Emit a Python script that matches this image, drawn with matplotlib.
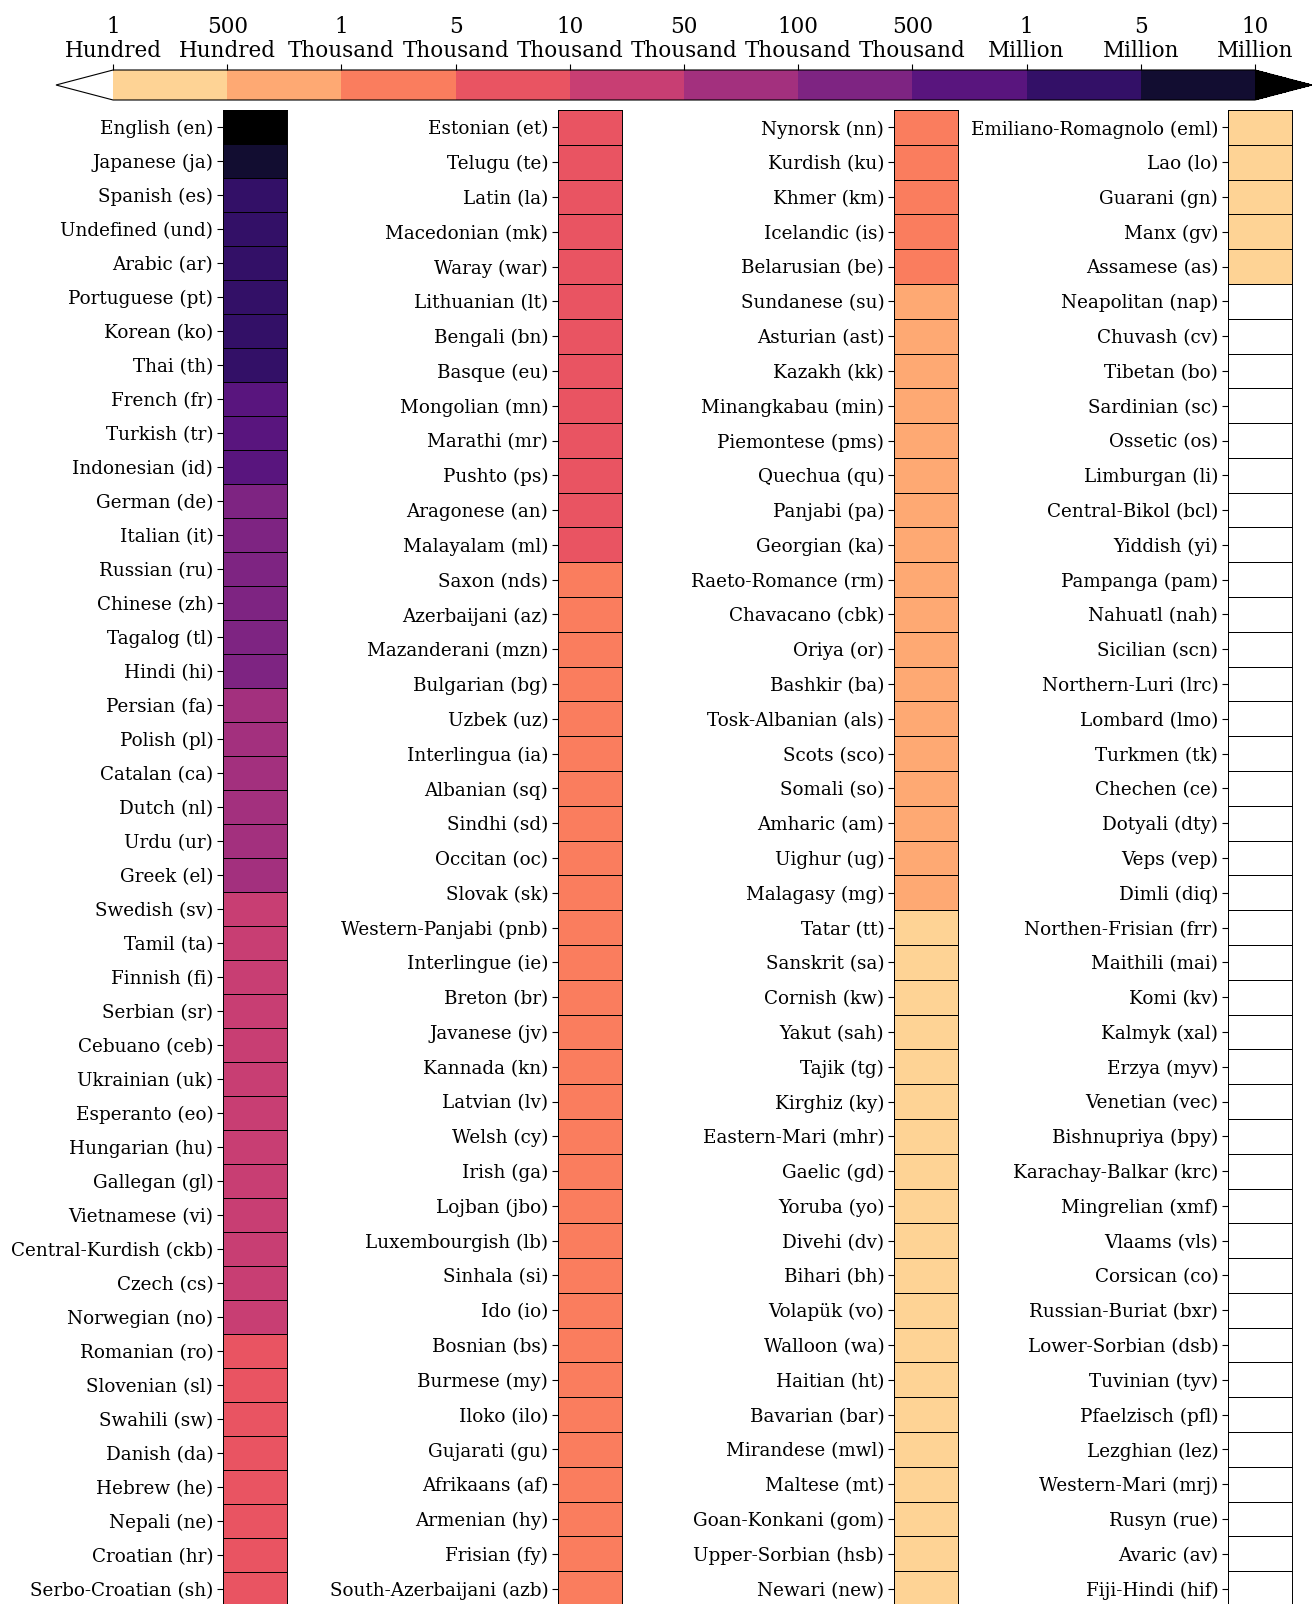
import numpy as np
import matplotlib
matplotlib.use("Agg")
import matplotlib.pyplot as plt
from matplotlib.colors import ListedColormap, BoundaryNorm

# ---------------- data ----------------
bounds = [100, 500, 1_000, 5_000, 10_000, 50_000, 100_000, 500_000,
          1_000_000, 5_000_000, 10_000_000]
bound_labels = ["1\nHundred", "500\nHundred", "1\nThousand", "5\nThousand",
                "10\nThousand", "50\nThousand", "100\nThousand", "500\nThousand",
                "1\nMillion", "5\nMillion", "10\nMillion"]

col1_names = ["English", "Japanese", "Spanish", "Undefined", "Arabic", "Portuguese",
              "Korean", "Thai", "French", "Turkish", "Indonesian", "German", "Italian",
              "Russian", "Chinese", "Tagalog", "Hindi", "Persian", "Polish", "Catalan",
              "Dutch", "Urdu", "Greek", "Swedish", "Tamil", "Finnish", "Serbian",
              "Cebuano", "Ukrainian", "Esperanto", "Hungarian", "Gallegan", "Vietnamese",
              "Central-Kurdish", "Czech", "Norwegian", "Romanian", "Slovenian", "Swahili",
              "Danish", "Hebrew", "Nepali", "Croatian", "Serbo-Croatian"]
col1_codes = ["en", "ja", "es", "und", "ar", "pt", "ko", "th", "fr", "tr", "id", "de",
              "it", "ru", "zh", "tl", "hi", "fa", "pl", "ca", "nl", "ur", "el", "sv",
              "ta", "fi", "sr", "ceb", "uk", "eo", "hu", "gl", "vi", "ckb", "cs", "no",
              "ro", "sl", "sw", "da", "he", "ne", "hr", "sh"]
col1_values = [12_500_000, 6_200_000, 4_300_000, 3_600_000, 3_100_000, 2_600_000,
               1_900_000, 1_300_000, 880_000, 720_000, 610_000, 430_000, 360_000,
               310_000, 260_000, 210_000, 150_000, 96_000, 88_000, 79_000, 70_000,
               63_000, 56_000, 46_000, 41_000, 37_000, 33_000, 30_000, 27_000, 24_000,
               21_000, 19_000, 17_000, 15_000, 13_000, 11_000, 9_600, 9_100, 8_600,
               8_100, 7_700, 7_300, 6_900, 6_500]

col2_names = ["Estonian", "Telugu", "Latin", "Macedonian", "Waray", "Lithuanian",
              "Bengali", "Basque", "Mongolian", "Marathi", "Pushto", "Aragonese",
              "Malayalam", "Saxon", "Azerbaijani", "Mazanderani", "Bulgarian", "Uzbek",
              "Interlingua", "Albanian", "Sindhi", "Occitan", "Slovak", "Western-Panjabi",
              "Interlingue", "Breton", "Javanese", "Kannada", "Latvian", "Welsh", "Irish",
              "Lojban", "Luxembourgish", "Sinhala", "Ido", "Bosnian", "Burmese", "Iloko",
              "Gujarati", "Afrikaans", "Armenian", "Frisian", "South-Azerbaijani"]
col2_codes = ["et", "te", "la", "mk", "war", "lt", "bn", "eu", "mn", "mr", "ps", "an",
              "ml", "nds", "az", "mzn", "bg", "uz", "ia", "sq", "sd", "oc", "sk", "pnb",
              "ie", "br", "jv", "kn", "lv", "cy", "ga", "jbo", "lb", "si", "io", "bs",
              "my", "ilo", "gu", "af", "hy", "fy", "azb"]
col2_values = [6_300, 6_100, 5_950, 5_800, 5_650, 5_500, 5_400, 5_300, 5_250, 5_200,
               5_150, 5_100, 5_050, 4_900, 4_700, 4_500, 4_300, 4_100, 3_900, 3_700,
               3_500, 3_350, 3_200, 3_050, 2_900, 2_750, 2_600, 2_500, 2_400, 2_300,
               2_200, 2_100, 2_000, 1_900, 1_800, 1_700, 1_620, 1_540, 1_460, 1_380,
               1_300, 1_250, 1_200]

col3_names = ["Nynorsk", "Kurdish", "Khmer", "Icelandic", "Belarusian", "Sundanese",
              "Asturian", "Kazakh", "Minangkabau", "Piemontese", "Quechua", "Panjabi",
              "Georgian", "Raeto-Romance", "Chavacano", "Oriya", "Bashkir",
              "Tosk-Albanian", "Scots", "Somali", "Amharic", "Uighur", "Malagasy",
              "Tatar", "Sanskrit", "Cornish", "Yakut", "Tajik", "Kirghiz", "Eastern-Mari",
              "Gaelic", "Yoruba", "Divehi", "Bihari", "Volapük", "Walloon", "Haitian",
              "Bavarian", "Mirandese", "Maltese", "Goan-Konkani", "Upper-Sorbian", "Newari"]
col3_codes = ["nn", "ku", "km", "is", "be", "su", "ast", "kk", "min", "pms", "qu", "pa",
              "ka", "rm", "cbk", "or", "ba", "als", "sco", "so", "am", "ug", "mg", "tt",
              "sa", "kw", "sah", "tg", "ky", "mhr", "gd", "yo", "dv", "bh", "vo", "wa",
              "ht", "bar", "mwl", "mt", "gom", "hsb", "new"]
col3_values = [1_150, 1_120, 1_090, 1_050, 1_020, 980, 950, 920, 890, 860, 830, 800,
               780, 750, 720, 700, 680, 650, 620, 600, 570, 540, 520, 480, 460, 440,
               420, 400, 380, 360, 340, 320, 300, 280, 260, 240, 220, 200, 180, 165,
               150, 135, 120]

col4_names = ["Emiliano-Romagnolo", "Lao", "Guarani", "Manx", "Assamese", "Neapolitan",
              "Chuvash", "Tibetan", "Sardinian", "Ossetic", "Limburgan", "Central-Bikol",
              "Yiddish", "Pampanga", "Nahuatl", "Sicilian", "Northern-Luri", "Lombard",
              "Turkmen", "Chechen", "Dotyali", "Veps", "Dimli", "Northen-Frisian",
              "Maithili", "Komi", "Kalmyk", "Erzya", "Venetian", "Bishnupriya",
              "Karachay-Balkar", "Mingrelian", "Vlaams", "Corsican", "Russian-Buriat",
              "Lower-Sorbian", "Tuvinian", "Pfaelzisch", "Lezghian", "Western-Mari",
              "Rusyn", "Avaric", "Fiji-Hindi"]
col4_codes = ["eml", "lo", "gn", "gv", "as", "nap", "cv", "bo", "sc", "os", "li", "bcl",
              "yi", "pam", "nah", "scn", "lrc", "lmo", "tk", "ce", "dty", "vep", "diq",
              "frr", "mai", "kv", "xal", "myv", "vec", "bpy", "krc", "xmf", "vls", "co",
              "bxr", "dsb", "tyv", "pfl", "lez", "mrj", "rue", "av", "hif"]
col4_values = [115, 110, 108, 104, 101, 95, 92, 88, 85, 82, 78, 75, 72, 69, 66, 63, 60,
               57, 54, 51, 48, 45, 42, 40, 38, 36, 34, 32, 30, 28, 26, 24, 22, 20, 18,
               16, 14, 12, 10, 8, 6, 4, 2]

columns = [(col1_names, col1_codes, col1_values),
           (col2_names, col2_codes, col2_values),
           (col3_names, col3_codes, col3_values),
           (col4_names, col4_codes, col4_values)]

# ---------------- style ----------------
plt.rcParams["font.family"] = ["DejaVu Serif"]
W, H = 1312, 1604
fig = plt.figure(figsize=(W / 100, H / 100), dpi=100)

colors = plt.cm.magma(np.linspace(0, 1, 12)[1:-1])[::-1]
cmap = ListedColormap(colors)
cmap.set_over("black")
cmap.set_under("white")
norm = BoundaryNorm(bounds, cmap.N)

top = 110
ax_h = 1496
col_left = [223, 558, 894, 1228]
col_w = 64

for (names, codes, vals), x0 in zip(columns, col_left):
    n = len(vals)
    bottom = H - top - ax_h
    ax = fig.add_axes([x0 / W, bottom / H, col_w / W, ax_h / H])
    data = np.array(vals, dtype=float).reshape(-1, 1)
    ax.pcolormesh(data, cmap=cmap, norm=norm, edgecolors="black", linewidth=0.7)
    ax.set_ylim(n, 0)
    ax.set_xlim(0, 1)
    ax.set_xticks([])
    ax.set_yticks(np.arange(n) + 0.5)
    ax.set_yticklabels([f"{a} ({c})" for a, c in zip(names, codes)], fontsize=13.2)
    ax.tick_params(axis="y", length=4, width=0.8, pad=3)
    for s in ax.spines.values():
        s.set_linewidth(0.7)

# colorbar
cax = fig.add_axes([56 / W, (H - 100) / H, 1256 / W, 30 / H])
sm = matplotlib.cm.ScalarMappable(norm=norm, cmap=cmap)
cb = fig.colorbar(sm, cax=cax, orientation="horizontal", extend="both",
                  ticks=bounds, spacing="uniform", ticklocation="top")
cb.set_ticklabels(bound_labels)
cb.ax.tick_params(labelsize=15.5, length=4, width=0.8, pad=2)
for lbl in cb.ax.get_xticklabels():
    lbl.set_linespacing(1.1)
cb.outline.set_linewidth(0.8)

fig.savefig("out.png", dpi=100)
